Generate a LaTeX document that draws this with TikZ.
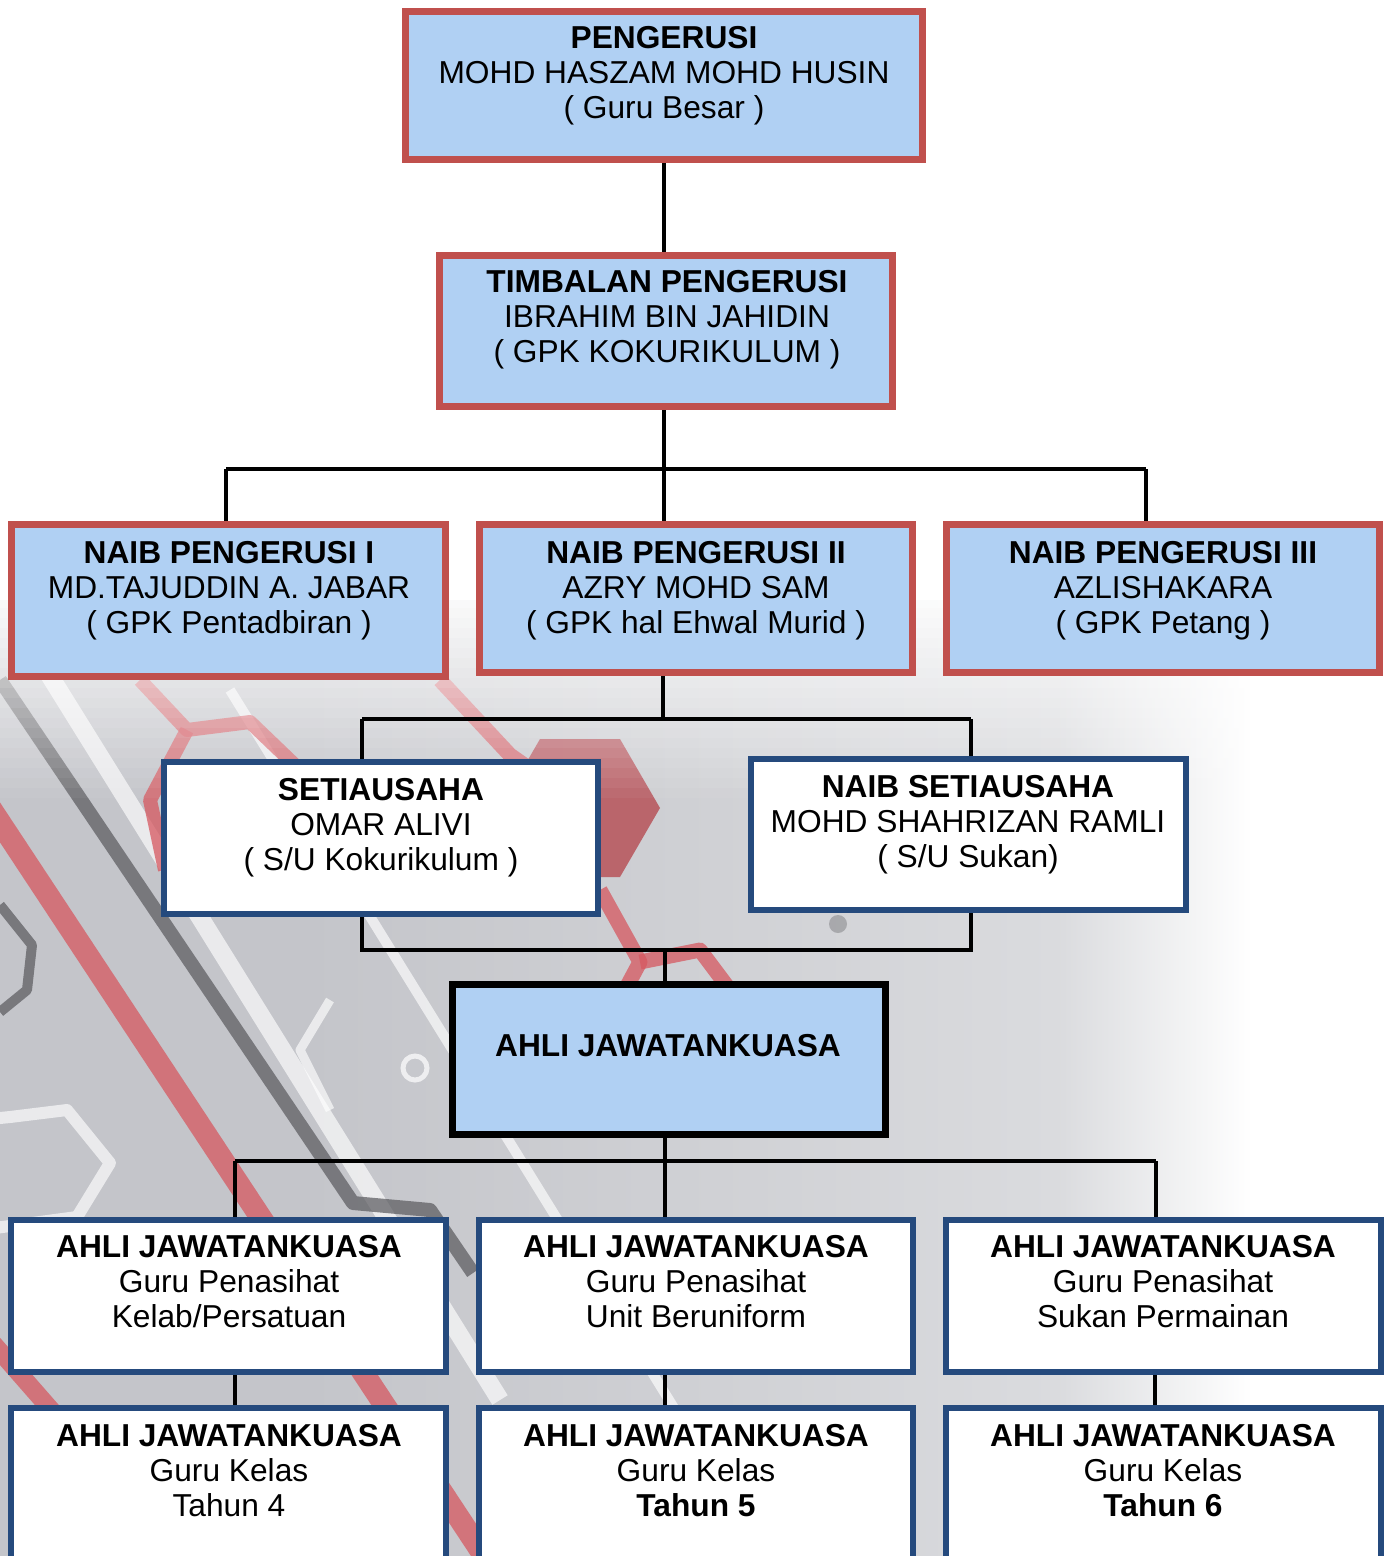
\documentclass[tikz,border=0pt]{standalone}
\usepackage{fontspec}
\setmainfont{Liberation Sans}

\definecolor{boxred}{RGB}{192,80,77}
\definecolor{boxblue}{RGB}{37,74,125}
\definecolor{boxfill}{RGB}{176,208,243}
\definecolor{bgA}{RGB}{196,197,202}
\definecolor{bgB}{RGB}{218,219,222}
\definecolor{trace}{RGB}{214,88,96}
\definecolor{darktrace}{RGB}{88,88,92}

% grey backdrop, darker on the left and white towards the right
\pgfdeclarehorizontalshading{bgshade}{100bp}{color(0bp)=(bgA); color(36bp)=(bgA); color(63bp)=(bgB); color(70bp)=(white); color(100bp)=(white)}

\tikzset{
  redbox/.style={draw=boxred, line width=7pt, fill=boxfill, inner sep=0pt},
  bluebox/.style={draw=boxblue, line width=6pt, fill=white, inner sep=0pt},
  blackbox/.style={draw=black, line width=7pt, fill=boxfill, inner sep=0pt},
  lbl/.style={inner sep=0pt, anchor=north, align=center, font=\fontsize{31.7}{35}\selectfont},
  link/.style={draw=black, line width=4pt},
  redtrace/.style={draw=trace, line width=#1, opacity=0.75, line join=round},
  greytrace/.style={draw=darktrace, line width=#1, opacity=0.7, line join=round},
  whitetrace/.style={draw=white, line width=#1, opacity=0.65, line join=round},
}

\begin{document}
\begin{tikzpicture}[x=1pt, y=-1pt]
\useasboundingbox (0,0) rectangle (1391,1556);
\clip (0,0) rectangle (1391,1556);

% ---------- backdrop ----------
\fill[white] (0,0) rectangle (1391,1556);
\shade[shading=bgshade] (0,600) rectangle (1391,1556);

% light bands
\draw[whitetrace=18pt] (40,660) -- (500,1400);
\draw[whitetrace=10pt] (230,690) -- (700,1450);
\draw[whitetrace=12pt] (-20,1120) -- (10,1117) -- (67,1110) -- (110,1163) -- (77,1217) -- (-20,1230);
\draw[whitetrace=9pt] (330,1000) -- (300,1050) -- (330,1110);
\draw[white, line width=5pt, opacity=0.7] (415,1068) circle (12);

% dark circuit lines
\draw[greytrace=14pt] (0,680) -- (353,1203) -- (430,1210) -- (473,1273);
\draw[greytrace=10pt] (0,905) -- (32,945) -- (27,990) -- (0,1012);
\fill[darktrace, opacity=0.35] (838,924) circle (9);

% red circuit lines
\draw[redtrace=22pt] (-28,780) -- (500,1580);
\draw[redtrace=18pt] (-10,1340) -- (60,1420);
\draw[redtrace=14pt] (140,680) -- (187,730) -- (250,722) -- (300,770);
\draw[redtrace=14pt] (187,730) -- (150,800) -- (165,870);
\draw[redtrace=15pt] (440,680) -- (510,755) -- (560,790);
\fill[trace!85!black, opacity=0.8] (660,808) -- (620,739) -- (540,739) -- (500,808) -- (540,877) -- (620,877) -- cycle;
\draw[redtrace=15pt] (600,890) -- (640,962) -- (625,990);
\draw[redtrace=15pt] (640,962) -- (700,950) -- (730,990);

% soften the top edge of the backdrop with a stack of thinning white strips
\foreach \i [evaluate=\i as \op using 0.9*(1-\i/20)] in {0,...,19}
  \fill[white, opacity=\op] (0,598+10*\i) rectangle (1391,608+10*\i);

% ---------- boxes ----------
\node[redbox, minimum width=517, minimum height=148] (p)  at (664,85.5) {};
\node[redbox, minimum width=453, minimum height=151] (t)  at (666,331) {};
\node[redbox, minimum width=434, minimum height=152] (n1) at (228.5,600.5) {};
\node[redbox, minimum width=433, minimum height=148] (n2) at (696,598.5) {};
\node[redbox, minimum width=433, minimum height=148] (n3) at (1163,598.5) {};
\node[bluebox, minimum width=434, minimum height=152] (s)  at (381,838) {};
\node[bluebox, minimum width=435, minimum height=151] (ns) at (968.5,834.5) {};
\node[blackbox, minimum width=433, minimum height=150] (m) at (669,1059.5) {};
\node[bluebox, minimum width=435, minimum height=152] (r1) at (228.5,1296) {};
\node[bluebox, minimum width=434, minimum height=152] (r2) at (696,1296) {};
\node[bluebox, minimum width=435, minimum height=152] (r3) at (1163.5,1296) {};
\node[bluebox, minimum width=435, minimum height=189] (k1) at (228.5,1502.5) {};
\node[bluebox, minimum width=434, minimum height=189] (k2) at (696,1502.5) {};
\node[bluebox, minimum width=435, minimum height=189] (k3) at (1163.5,1502.5) {};

% ---------- texts ----------
\node[lbl] (pt)  at (664,26)  {\textbf{PENGERUSI}\\MOHD HASZAM MOHD HUSIN\\( Guru Besar )};
\node[lbl] (tt)  at (667,270) {\textbf{TIMBALAN PENGERUSI}\\IBRAHIM BIN JAHIDIN\\( GPK KOKURIKULUM )};
\node[lbl] (n1t) at (229,541) {\textbf{NAIB PENGERUSI I}\\MD.TAJUDDIN A. JABAR\\( GPK Pentadbiran )};
\node[lbl] (n2t) at (696,541) {\textbf{NAIB PENGERUSI II}\\AZRY MOHD SAM\\( GPK hal Ehwal Murid )};
\node[lbl] (n3t) at (1163,541) {\textbf{NAIB PENGERUSI III}\\AZLISHAKARA\\( GPK Petang )};
\node[lbl] (st)  at (381,778) {\textbf{SETIAUSAHA}\\OMAR ALIVI\\( S/U Kokurikulum )};
\node[lbl] (nst) at (968,775) {\textbf{NAIB SETIAUSAHA}\\MOHD SHAHRIZAN RAMLI\\( S/U Sukan)};
\node[lbl] (mt)  at (668,1034) {\textbf{AHLI JAWATANKUASA}};
\node[lbl] (r1t) at (229,1235) {\textbf{AHLI JAWATANKUASA}\\Guru Penasihat\\Kelab/Persatuan};
\node[lbl] (r2t) at (696,1235) {\textbf{AHLI JAWATANKUASA}\\Guru Penasihat\\Unit Beruniform};
\node[lbl] (r3t) at (1163,1235) {\textbf{AHLI JAWATANKUASA}\\Guru Penasihat\\Sukan Permainan};
\node[lbl] (k1t) at (229,1424) {\textbf{AHLI JAWATANKUASA}\\Guru Kelas\\Tahun 4};
\node[lbl] (k2t) at (696,1424) {\textbf{AHLI JAWATANKUASA}\\Guru Kelas\\\textbf{Tahun 5}};
\node[lbl] (k3t) at (1163,1424) {\textbf{AHLI JAWATANKUASA}\\Guru Kelas\\\textbf{Tahun 6}};

% ---------- junctions ----------
\coordinate (j1)  at (664,469);
\coordinate (j1L) at (226,469);
\coordinate (j1R) at (1146,469);
\coordinate (j2)  at (663,719);
\coordinate (j2L) at (362,719);
\coordinate (j2R) at (971,719);
\coordinate (j3)  at (665,950);
\coordinate (j3L) at (362,950);
\coordinate (j3R) at (971,950);
\coordinate (j4)  at (665,1161);
\coordinate (j4L) at (235,1161);
\coordinate (j4R) at (1156,1161);
\coordinate (j5L) at (235,1390);
\coordinate (j5R) at (1155,1390);

% ---------- connectors ----------
\draw[link] (p.south) -- (p.south |- t.north);
\draw[link] (t.south -| j1) -- (j1) -- (j1 |- n2.north);
\draw[link] (j1L) -- (j1R);
\draw[link] (j1L) -- (j1L |- n1.north);
\draw[link] (j1R) -- (j1R |- n3.north);

\draw[link] (n2.south -| j2) -- (j2);
\draw[link] (j2L) -- (j2R);
\draw[link] (j2L) -- (j2L |- s.north);
\draw[link] (j2R) -- (j2R |- ns.north);

\draw[link] (s.south -| j3L) -- (j3L) -- (j3R) -- (ns.south -| j3R);
\draw[link] (j3) -- (j3 |- m.north);

\draw[link] (m.south -| j4) -- (j4 |- r2.north);
\draw[link] (j4L) -- (j4R);
\draw[link] (j4L) -- (j4L |- r1.north);
\draw[link] (j4R) -- (j4R |- r3.north);

\draw[link] (r1.south -| j5L) -- (j5L |- k1.north);
\draw[link] (r2.south -| j4) -- (j4 |- k2.north);
\draw[link] (r3.south -| j5R) -- (j5R |- k3.north);
\end{tikzpicture}
\end{document}
